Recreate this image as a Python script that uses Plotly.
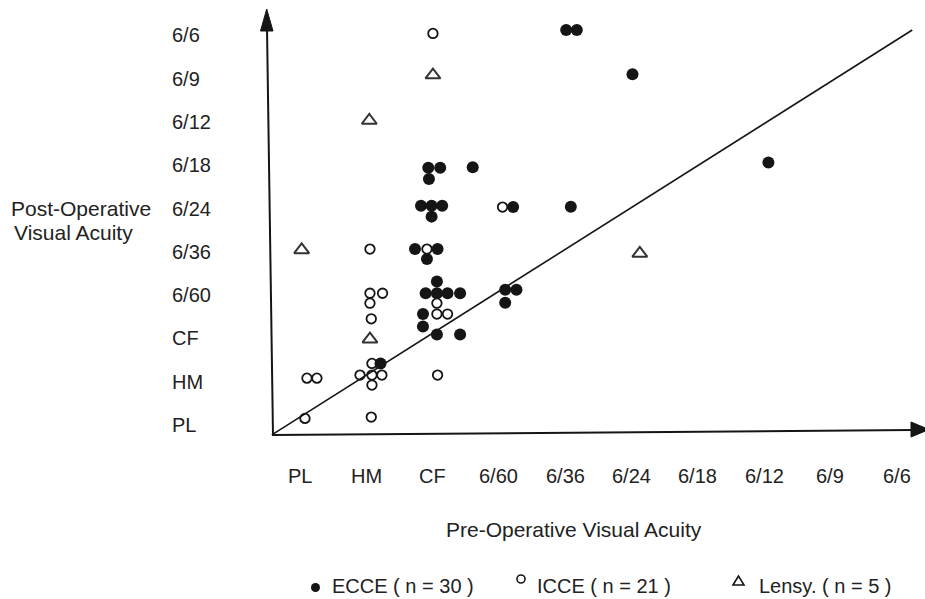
import plotly.graph_objects as go

# ---- data (category index units: PL=0, HM=1, CF=2, 6/60=3, ... 6/6=9) ----
acuity_labels = ["PL", "HM", "CF", "6/60", "6/36", "6/24", "6/18", "6/12", "6/9", "6/6"]

ecce_x = [3.97, 4.13, 4.97, 1.89, 2.07, 1.90, 2.56, 1.78, 1.94, 2.10, 1.94, 3.17, 4.04, 7.02,
          1.69, 2.03, 1.87, 2.02, 1.85, 2.02, 2.18, 2.37, 1.81, 1.81, 2.02, 2.37, 3.05, 3.22,
          3.05, 1.17]
ecce_y = [9.03, 9.03, 8.01, 5.85, 5.85, 5.59, 5.86, 4.97, 4.97, 4.97, 4.72, 4.94, 4.95, 5.97,
          3.97, 3.97, 3.74, 3.22, 2.95, 2.95, 2.95, 2.95, 2.47, 2.18, 2.00, 2.00, 3.03, 3.03,
          2.73, 1.33]

icce_x = [1.96, 3.01, 1.01, 1.87, 1.01, 1.20, 1.01, 1.03, 2.02, 2.02, 2.18, 1.04, 0.86, 1.04,
          1.19, 1.04, 2.03, 0.06, 0.21, 0.03, 1.03]
icce_y = [8.95, 4.94, 3.97, 3.97, 2.95, 2.95, 2.72, 2.36, 2.72, 2.47, 2.47, 1.33, 1.06, 1.06,
          1.06, 0.83, 1.06, 0.99, 0.99, 0.06, 0.09]

lensy_x = [-0.02, 1.00, 1.96, 1.01, 5.08]
lensy_y = [3.95, 6.94, 7.99, 1.89, 3.87]

# reference line (no change in acuity)
diag_x = [-0.47, 9.19]
diag_y = [-0.32, 9.03]

legend_names = ["ECCE ( n = 30 )", "ICCE ( n = 21 )", "Lensy. ( n = 5 )"]

# ---- layout helpers ----
W, H = 925, 599
INK = "#151515"
TXT = "#222222"
FONT = "Liberation Sans, Arial, sans-serif"


def px(x):
    return x / W


def py(y):
    return 1 - y / H


fig = go.Figure()

fig.add_trace(go.Scatter(x=diag_x, y=diag_y, mode="lines",
                         line=dict(color=INK, width=1.6), hoverinfo="skip", showlegend=False))
fig.add_trace(go.Scatter(x=icce_x, y=icce_y, mode="markers", name=legend_names[1],
                         marker=dict(symbol="circle-open", size=9.5, color=INK,
                                     line=dict(width=1.8, color=INK)), showlegend=False))
fig.add_trace(go.Scatter(x=lensy_x, y=lensy_y, mode="markers", name=legend_names[2],
                         marker=dict(symbol="triangle-up-open", size=13, color="#333",
                                     line=dict(width=2, color="#333")), showlegend=False))
fig.add_trace(go.Scatter(x=ecce_x, y=ecce_y, mode="markers", name=legend_names[0],
                         marker=dict(symbol="circle", size=12, color=INK,
                                     line=dict(width=0)), showlegend=False))

shapes = []
# y axis with arrow
shapes.append(dict(type="line", xref="paper", yref="paper",
                   x0=px(273), y0=py(435), x1=px(267), y1=py(28),
                   line=dict(color=INK, width=2)))
shapes.append(dict(type="path", xref="paper", yref="paper",
                   path=f"M {px(260.5)} {py(31)} L {px(266.7)} {py(9)} L {px(273)} {py(31)} Z",
                   fillcolor=INK, line=dict(color=INK, width=1)))
# x axis with arrow
shapes.append(dict(type="line", xref="paper", yref="paper",
                   x0=px(272), y0=py(435), x1=px(912), y1=py(430),
                   line=dict(color=INK, width=2)))
shapes.append(dict(type="path", xref="paper", yref="paper",
                   path=f"M {px(911)} {py(422)} L {px(929)} {py(429.5)} L {px(911)} {py(437)} Z",
                   fillcolor=INK, line=dict(color=INK, width=1)))

# legend keys
shapes.append(dict(type="circle", xref="paper", yref="paper",
                   x0=px(311), x1=px(320), y0=py(583), y1=py(592),
                   fillcolor=INK, line=dict(color=INK, width=0)))
shapes.append(dict(type="circle", xref="paper", yref="paper",
                   x0=px(517), x1=px(525), y0=py(575), y1=py(583),
                   line=dict(color=INK, width=1.6)))
shapes.append(dict(type="path", xref="paper", yref="paper",
                   path=f"M {px(733)} {py(585)} L {px(738.5)} {py(576)} L {px(744)} {py(585)} Z",
                   line=dict(color=INK, width=1.6)))

annotations = []
# y tick labels (left aligned)
for j, lab in enumerate(acuity_labels):
    annotations.append(dict(text=lab, xref="paper", yref="y", x=px(170), y=j,
                            xanchor="left", yanchor="middle", yshift=-4, showarrow=False,
                            font=dict(family=FONT, size=20, color=TXT)))
# x tick labels
for i, lab in enumerate(acuity_labels):
    annotations.append(dict(text=lab, xref="x", yref="paper", x=i, y=py(476),
                            xanchor="center", yanchor="middle", xshift=-3, showarrow=False,
                            font=dict(family=FONT, size=20, color=TXT)))
# axis titles
annotations.append(dict(text="Post-Operative", xref="paper", yref="paper", x=px(9), y=py(209),
                        xanchor="left", yanchor="middle", showarrow=False,
                        font=dict(family=FONT, size=21, color=TXT)))
annotations.append(dict(text="Visual Acuity", xref="paper", yref="paper", x=px(12), y=py(232),
                        xanchor="left", yanchor="middle", showarrow=False,
                        font=dict(family=FONT, size=21, color=TXT)))
annotations.append(dict(text="Pre-Operative Visual Acuity", xref="paper", yref="paper",
                        x=px(574), y=py(529), xanchor="center", yanchor="middle",
                        showarrow=False, font=dict(family=FONT, size=21, color=TXT)))
# legend texts
for xl, name in zip([330, 535, 757], legend_names):
    annotations.append(dict(text=name, xref="paper", yref="paper", x=px(xl), y=py(586),
                            xanchor="left", yanchor="middle", showarrow=False,
                            font=dict(family=FONT, size=20, color=TXT)))

fig.update_layout(
    width=W, height=H,
    margin=dict(l=0, r=0, t=0, b=0),
    paper_bgcolor="white", plot_bgcolor="white",
    xaxis=dict(range=[-4.570, 9.382], visible=False, fixedrange=True),
    yaxis=dict(range=[-4.111, 9.723], visible=False, fixedrange=True),
    shapes=shapes, annotations=annotations,
    showlegend=False,
)

fig.write_html("out.html", config={"displayModeBar": False},
               post_script="document.body.style.margin='0';")
